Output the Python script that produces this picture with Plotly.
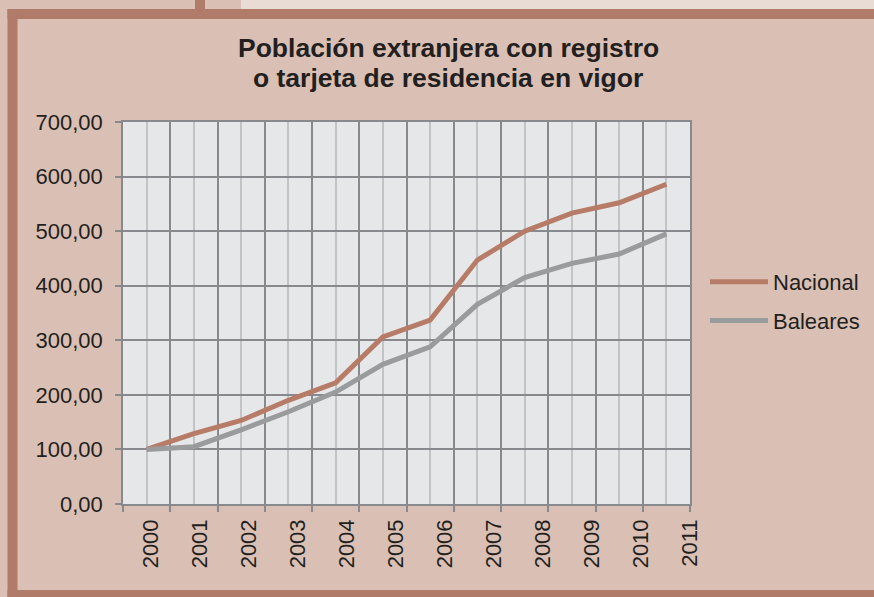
import numpy as np
import plotly.graph_objects as go

# ---- data ----
years = list(range(2000, 2012))
nacional = [100, 129, 153, 190, 222, 306, 337, 447, 500, 533, 552, 586]
baleares = [100, 105, 136, 169, 205, 256, 288, 366, 415, 441, 458, 495]
series_names = ["Nacional", "Baleares"]
title_lines = ["Población extranjera con registro", "o tarjeta de residencia en vigor"]

# ---- geometry / style ----
W, H = 874, 597
L, R, T, B = 123, 184, 122, 93
PW, PH = W - L - R, H - T - B

def px(x):
    return (x - L) / PW

def py(y):
    return (H - B - y) / PH

FONT = "Liberation Sans, Arial, sans-serif"
TXT = "#231f20"
BG = "#dac0b4"
LIGHT_BG = "#e9dcd4"
FRAME = "#b07b69"
PLOT_BG = "#e6e7e9"
GRID_MAJOR = "#88898c"
GRID_MINOR = "#c2c3c5"
C_NAC = "#b77c67"
C_BAL = "#9a9b9d"

fig = go.Figure()
fig.add_trace(go.Scatter(x=years, y=nacional, name=series_names[0], mode="lines",
                         line=dict(color=C_NAC, width=5), legendgroup="a"))
fig.add_trace(go.Scatter(x=years, y=baleares, name=series_names[1], mode="lines",
                         line=dict(color=C_BAL, width=5), legendgroup="b"))

xr = [years[0] - 0.5, years[-1] + 0.5]
major = [y - 0.5 for y in years] + [years[-1] + 0.5]
label_pos = list(np.linspace(years[0] + 0.08, years[-1] + 0.5, len(years)))

shapes = [
    dict(type="rect", xref="paper", yref="paper", x0=px(241), x1=px(W + 5), y0=py(9), y1=py(-5),
         fillcolor=LIGHT_BG, line_width=0, layer="below"),
    dict(type="rect", xref="paper", yref="paper", x0=px(195), x1=px(205), y0=py(10), y1=py(-5),
         fillcolor=FRAME, line_width=0, layer="below"),
    dict(type="rect", xref="paper", yref="paper", x0=px(7.5), x1=px(W + 5), y0=py(19), y1=py(9),
         fillcolor=FRAME, line_width=0, layer="below"),
    dict(type="rect", xref="paper", yref="paper", x0=px(7.5), x1=px(17.5), y0=py(H + 5), y1=py(9),
         fillcolor=FRAME, line_width=0, layer="below"),
    dict(type="rect", xref="paper", yref="paper", x0=px(7.5), x1=px(W + 5), y0=py(H + 5), y1=py(590),
         fillcolor=FRAME, line_width=0, layer="below"),
]

annotations = [
    dict(text="<b>" + title_lines[0] + "</b>", xref="paper", yref="paper",
         x=px(448), y=py(48), xanchor="center", yanchor="middle", showarrow=False,
         font=dict(family=FONT, size=26.5, color=TXT)),
    dict(text="<b>" + title_lines[1] + "</b>", xref="paper", yref="paper",
         x=px(448), y=py(78), xanchor="center", yanchor="middle", showarrow=False,
         font=dict(family=FONT, size=26.5, color=TXT)),
]

fig.update_layout(
    width=W, height=H, autosize=False,
    margin=dict(l=L, r=R, t=T, b=B, pad=0, autoexpand=False),
    paper_bgcolor=BG, plot_bgcolor=PLOT_BG,
    separators=",.",
    font=dict(family=FONT, color=TXT, size=22),
    xaxis=dict(range=xr, tickmode="array", tickvals=major, showticklabels=False,
               ticks="outside", ticklen=6, tickwidth=1.5, tickcolor=GRID_MAJOR,
               showgrid=True, gridcolor=GRID_MAJOR, gridwidth=1.5,
               showline=True, linecolor=GRID_MAJOR, linewidth=1.5, mirror=True,
               zeroline=False,
               minor=dict(tickmode="array", tickvals=years, showgrid=True,
                          gridcolor=GRID_MINOR, gridwidth=1.5, ticks="")),
    xaxis2=dict(range=xr, overlaying="x", anchor="y", side="bottom",
                tickmode="array", tickvals=label_pos, ticktext=[str(y) for y in years],
                tickangle=-90, ticks="", showgrid=False, showline=False, zeroline=False,
                tickfont=dict(size=22, color=TXT, family=FONT), ticklabelstandoff=10),
    yaxis=dict(range=[0, 700], dtick=100, tick0=0, tickformat=".2f",
               ticks="outside", ticklen=6, tickwidth=1.5, tickcolor=GRID_MAJOR,
               showgrid=True, gridcolor=GRID_MAJOR, gridwidth=1.5,
               showline=True, linecolor=GRID_MAJOR, linewidth=1.5, mirror=True,
               zeroline=False, tickfont=dict(size=22, color=TXT, family=FONT),
               ticklabelstandoff=8),
    legend=dict(xref="container", yref="container",
                x=705 / W, y=1 - 261 / H, xanchor="left", yanchor="top",
                bgcolor="rgba(0,0,0,0)", font=dict(size=22, color=TXT, family=FONT),
                tracegroupgap=7, itemwidth=58),
    shapes=shapes,
    annotations=annotations,
)

# invisible helper so the label axis is drawn
fig.add_trace(go.Scatter(x=[years[0]], y=[None], xaxis="x2", showlegend=False,
                         hoverinfo="skip", mode="lines"))

post = (
    "document.documentElement.style.margin='0';"
    "document.body.style.margin='0';"
    "document.documentElement.style.overflow='hidden';"
    "document.body.style.overflow='hidden';"
)

fig.write_html(
    "out.html",
    config={"displayModeBar": False, "responsive": False},
    post_script=post,
)
